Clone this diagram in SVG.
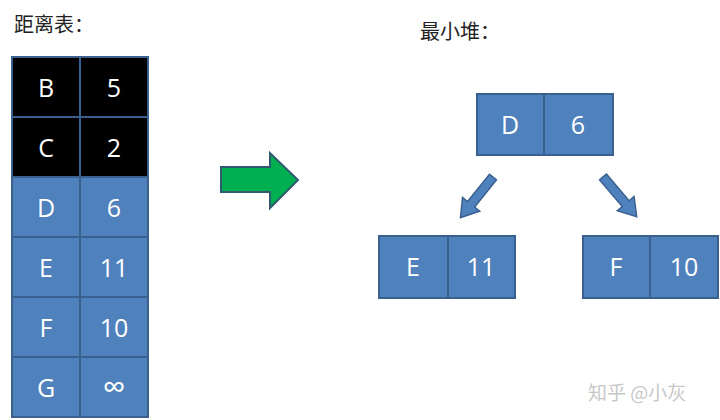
<svg xmlns="http://www.w3.org/2000/svg" width="720" height="420" viewBox="0 0 720 420">
<style>
.cell{fill:#4F81BD;stroke:#3A6090;stroke-width:2}
.dark{fill:#000;stroke:#3A6090;stroke-width:2}
.t{font-family:"Open Sans","Liberation Sans",sans-serif;font-size:25px;fill:#fff;text-anchor:middle;dominant-baseline:central}
.inf{font-size:32px}
.title{font-family:"Noto Sans CJK SC",sans-serif;font-size:20px;fill:#222}
.arr{fill:#4F81BD;stroke:#3A6090;stroke-width:1.5}
</style>
<rect width="720" height="420" fill="#fff"/>
<text class="title" x="14" y="32">距离表：</text>
<text class="title" x="420" y="39">最小堆：</text>
<g id="table">
<rect class="dark" x="12" y="57" width="68" height="60"/><rect class="dark" x="80" y="57" width="68" height="60"/>
<text class="t" x="46" y="87">B</text><text class="t" x="114" y="87">5</text>
<rect class="dark" x="12" y="117" width="68" height="60"/><rect class="dark" x="80" y="117" width="68" height="60"/>
<text class="t" x="46" y="147">C</text><text class="t" x="114" y="147">2</text>
<rect class="cell" x="12" y="177" width="68" height="60"/><rect class="cell" x="80" y="177" width="68" height="60"/>
<text class="t" x="46" y="207">D</text><text class="t" x="114" y="207">6</text>
<rect class="cell" x="12" y="237" width="68" height="60"/><rect class="cell" x="80" y="237" width="68" height="60"/>
<text class="t" x="46" y="267">E</text><text class="t" x="114" y="267">11</text>
<rect class="cell" x="12" y="297" width="68" height="60"/><rect class="cell" x="80" y="297" width="68" height="60"/>
<text class="t" x="46" y="327">F</text><text class="t" x="114" y="327">10</text>
<rect class="cell" x="12" y="357" width="68" height="60"/><rect class="cell" x="80" y="357" width="68" height="60"/>
<text class="t" x="46" y="387">G</text><text class="t inf" x="114" y="385">∞</text>
</g>
<g id="green-arrow">
<polygon points="221,167 270,167 270,153 298,180 270,208 270,192 221,192" fill="#00B050" stroke="#2F5A70" stroke-width="2"/>
</g>
<g id="node-D">
<rect class="cell" x="477" y="94" width="67" height="61"/><rect class="cell" x="544" y="94" width="69" height="61"/>
<text class="t" x="510" y="124">D</text><text class="t" x="578" y="124">6</text>
</g>
<g id="node-E">
<rect class="cell" x="379" y="236" width="69" height="62"/><rect class="cell" x="448" y="236" width="67" height="62"/>
<text class="t" x="413" y="266">E</text><text class="t" x="481" y="266">11</text>
</g>
<g id="node-F">
<rect class="cell" x="583" y="236" width="67" height="62"/><rect class="cell" x="650" y="236" width="68" height="62"/>
<text class="t" x="616" y="266">F</text><text class="t" x="684" y="266">10</text>
</g>
<g id="connectors">
<polygon class="arr" transform="translate(493,177) rotate(128.7)" points="0,-4.5 35,-4.5 35,-11 52,0 35,11 35,4.5 0,4.5"/>
<polygon class="arr" transform="translate(603,177) rotate(49.6)" points="0,-4.5 35,-4.5 35,-11 52,0 35,11 35,4.5 0,4.5"/>
</g>
<text x="588" y="400" font-family="Noto Sans CJK SC,sans-serif" font-size="19" fill="#c8c8c8">知乎 @小灰</text>
</svg>
